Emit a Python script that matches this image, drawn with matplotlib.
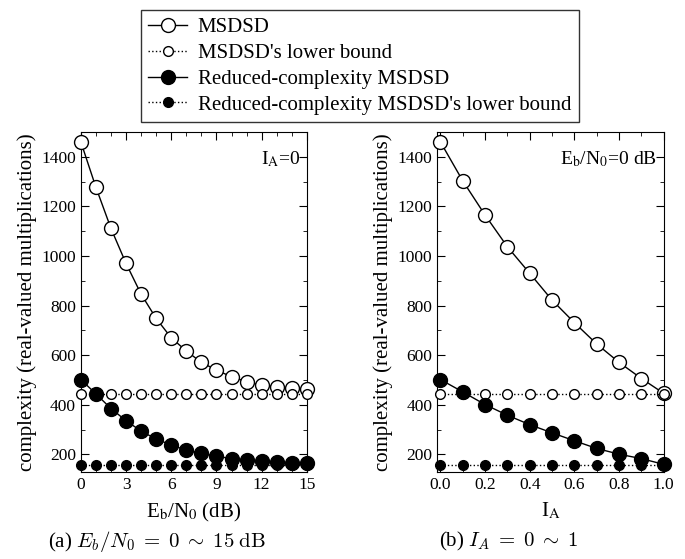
import numpy as np
import matplotlib.pyplot as plt
from matplotlib.ticker import MultipleLocator

plt.rcParams['font.family'] = ['Liberation Serif', 'DejaVu Serif']
plt.rcParams['mathtext.fontset'] = 'stix'

# (a) Eb/N0 sweep, IA = 0
snr = list(range(16))
msdsd_a = [1460, 1277, 1111, 970, 846, 748, 670, 617, 571, 540, 513, 493, 480, 473, 466, 462]
msdsd_lb_a = [445] * 16
red_a = [502, 444, 385, 336, 294, 262, 238, 217, 204, 193, 183, 177, 173, 169, 166, 164]
red_lb_a = [158] * 16

# (b) IA sweep, Eb/N0 = 0 dB
ia = [0.0, 0.1, 0.2, 0.3, 0.4, 0.5, 0.6, 0.7, 0.8, 0.9, 1.0]
msdsd_b = [1460, 1303, 1165, 1037, 930, 822, 731, 645, 571, 506, 446]
msdsd_lb_b = [445] * 11
red_b = [502, 452, 401, 358, 320, 287, 255, 224, 201, 183, 160]
red_lb_b = [158] * 11

labels = ['MSDSD', "MSDSD's lower bound", 'Reduced-complexity MSDSD',
          "Reduced-complexity MSDSD's lower bound"]

fig = plt.figure(figsize=(6.85, 5.59), dpi=100)
ax1 = fig.add_axes([0.118, 0.156, 0.330, 0.608])
ax2 = fig.add_axes([0.638, 0.156, 0.331, 0.608])

def draw(ax, x, s1, s2, s3, s4):
    kw = dict(color='black', clip_on=False, zorder=3)
    h1, = ax.plot(x, s1, '-', marker='o', ms=10, mfc='white', mew=1.0, lw=1.0, **kw)
    h2, = ax.plot(x, s2, ':', marker='o', ms=7, mfc='white', mew=1.0, lw=1.0, **kw)
    h3, = ax.plot(x, s3, '-', marker='o', ms=10, mfc='black', lw=1.0, **kw)
    h4, = ax.plot(x, s4, ':', marker='o', ms=7, mfc='black', lw=1.0, **kw)
    ax.set_ylim(130, 1500)
    ax.yaxis.set_major_locator(MultipleLocator(200))
    ax.yaxis.set_minor_locator(MultipleLocator(100))
    ax.tick_params(which='both', direction='in', top=True, right=True, labelsize=12.5)
    ax.tick_params(which='major', length=6)
    ax.tick_params(which='minor', length=3)
    ax.set_ylabel('complexity (real-valued multiplications)', fontsize=15, labelpad=3)
    return [h1, h2, h3, h4]

handles = draw(ax1, snr, msdsd_a, msdsd_lb_a, red_a, red_lb_a)
ax1.set_xlim(0, 15)
ax1.xaxis.set_major_locator(MultipleLocator(3))
ax1.xaxis.set_minor_locator(MultipleLocator(1))
ax1.set_xlabel(r'E$_\mathrm{b}$/N$_0$ (dB)', fontsize=15, labelpad=6)
ax1.text(0.97, 0.95, r'I$_\mathrm{A}$=0', transform=ax1.transAxes, ha='right', va='top', fontsize=14)

draw(ax2, ia, msdsd_b, msdsd_lb_b, red_b, red_lb_b)
ax2.set_xlim(-0.015, 1.0)
ax2.xaxis.set_major_locator(MultipleLocator(0.2))
ax2.xaxis.set_minor_locator(MultipleLocator(0.1))
ax2.xaxis.set_major_formatter(plt.FormatStrFormatter('%.1f'))
ax2.set_xlabel(r'I$_\mathrm{A}$', fontsize=15, labelpad=6)
ax2.text(0.97, 0.95, r'E$_\mathrm{b}$/N$_0$=0 dB', transform=ax2.transAxes, ha='right', va='top', fontsize=14)

fig.legend(handles, labels, loc='upper left', bbox_to_anchor=(0.190, 1.0),
           fontsize=15, frameon=True, fancybox=False, edgecolor='black',
           handlelength=1.9, handletextpad=0.5, labelspacing=0.3, borderpad=0.35)

fig.text(0.229, 0.022, r'(a) $E_b/N_0\;=\;0\;\sim\;15\;\mathrm{dB}$', ha='center', va='baseline',
         fontsize=15, math_fontfamily='cm')
fig.text(0.743, 0.022, r'(b) $I_A\;=\;0\;\sim\;1$', ha='center', va='baseline',
         fontsize=15, math_fontfamily='cm')

fig.savefig('out.png', dpi=100)
